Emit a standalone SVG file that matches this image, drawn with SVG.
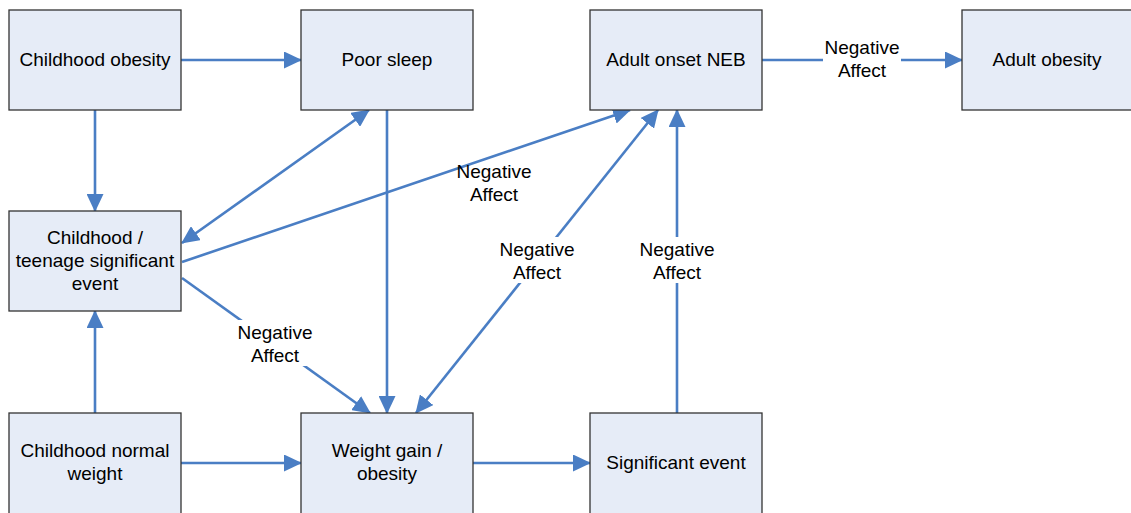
<svg xmlns="http://www.w3.org/2000/svg" width="1131" height="513" viewBox="0 0 1131 513">
<defs>
<style>
.box{fill:#E6ECF7;stroke:#333;stroke-width:1.3}
.t{font-family:"Liberation Sans",Arial,sans-serif;font-size:19px;fill:#000;text-anchor:middle}
.c{stroke:#4A7EC4;stroke-width:2.6;fill:none}
.bg{fill:#fff}
</style>
<marker id="ah" viewBox="0 0 18 17" refX="17" refY="8.5" markerWidth="18" markerHeight="17" markerUnits="userSpaceOnUse" orient="auto-start-reverse">
<path d="M0,0 L18,8.5 L0,17 z" fill="#4A7EC4"/>
</marker>
</defs>
<rect width="1131" height="513" fill="#fff"/>
<g id="connectors">
<line class="c" x1="181" y1="60" x2="301" y2="60" marker-end="url(#ah)"/>
<line class="c" x1="95" y1="110" x2="95" y2="211" marker-end="url(#ah)"/>
<line class="c" x1="95" y1="413" x2="95" y2="311" marker-end="url(#ah)"/>
<line class="c" x1="181" y1="463" x2="301" y2="463" marker-end="url(#ah)"/>
<line class="c" x1="473" y1="463" x2="590" y2="463" marker-end="url(#ah)"/>
<line class="c" x1="677" y1="413" x2="677" y2="110" marker-end="url(#ah)"/>
<line class="c" x1="762" y1="60" x2="962" y2="60" marker-end="url(#ah)"/>
<line class="c" x1="369" y1="110" x2="182" y2="243" marker-start="url(#ah)" marker-end="url(#ah)"/>
<line class="c" x1="387" y1="110" x2="387" y2="413" marker-end="url(#ah)"/>
<line class="c" x1="182" y1="262" x2="630" y2="110" marker-end="url(#ah)"/>
<line class="c" x1="416" y1="413" x2="658" y2="110" marker-start="url(#ah)" marker-end="url(#ah)"/>
<line class="c" x1="182" y1="278" x2="370" y2="413" marker-end="url(#ah)"/>
<g id="label-neb-adult">
<rect class="bg" x="823" y="37" width="78" height="44"/>
<text class="t" x="862" y="54">Negative</text>
<text class="t" x="862" y="77">Affect</text>
</g>
<g id="label-teen-neb">
<text class="t" x="494" y="178">Negative</text>
<text class="t" x="494" y="201">Affect</text>
</g>
<g id="label-wg-neb">
<rect class="bg" x="498" y="237" width="78" height="46"/>
<text class="t" x="537" y="256">Negative</text>
<text class="t" x="537" y="279">Affect</text>
</g>
<g id="label-sig-neb">
<rect class="bg" x="638" y="237" width="78" height="46"/>
<text class="t" x="677" y="256">Negative</text>
<text class="t" x="677" y="279">Affect</text>
</g>
<g id="label-teen-wg">
<rect class="bg" x="236" y="320" width="78" height="46"/>
<text class="t" x="275" y="339">Negative</text>
<text class="t" x="275" y="362">Affect</text>
</g>
</g>
<g id="childhood-obesity">
<rect class="box" x="9" y="10" width="172" height="100"/>
<text class="t" x="95" y="66">Childhood obesity</text>
</g>
<g id="poor-sleep">
<rect class="box" x="301" y="10" width="172" height="100"/>
<text class="t" x="387" y="66">Poor sleep</text>
</g>
<g id="adult-onset-neb">
<rect class="box" x="590" y="10" width="172" height="100"/>
<text class="t" x="676" y="66">Adult onset NEB</text>
</g>
<g id="adult-obesity">
<rect class="box" x="962" y="10" width="172" height="100"/>
<text class="t" x="1047" y="66">Adult obesity</text>
</g>
<g id="childhood-teenage-event">
<rect class="box" x="9" y="211" width="172" height="100"/>
<text class="t" x="95" y="244">Childhood /</text>
<text class="t" x="95" y="267">teenage significant</text>
<text class="t" x="95" y="290">event</text>
</g>
<g id="childhood-normal-weight">
<rect class="box" x="9" y="413" width="172" height="101"/>
<text class="t" x="95" y="457">Childhood normal</text>
<text class="t" x="95" y="480">weight</text>
</g>
<g id="weight-gain">
<rect class="box" x="301" y="413" width="172" height="101"/>
<text class="t" x="387" y="457">Weight gain /</text>
<text class="t" x="387" y="480">obesity</text>
</g>
<g id="significant-event">
<rect class="box" x="590" y="413" width="172" height="101"/>
<text class="t" x="676" y="469">Significant event</text>
</g>
</svg>
